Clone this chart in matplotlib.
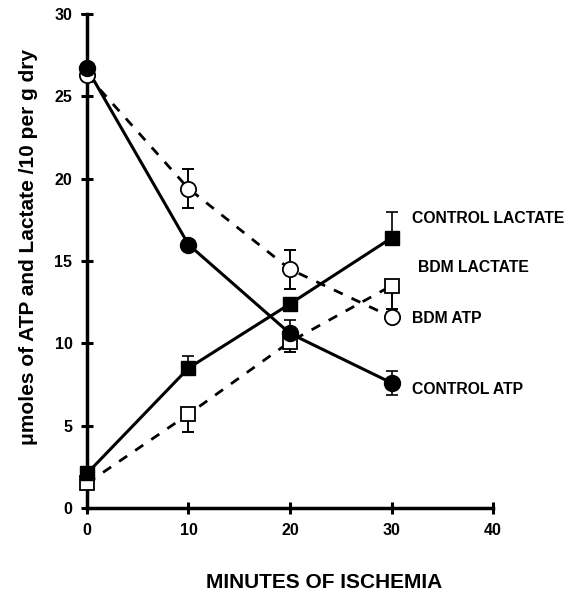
import matplotlib
matplotlib.use("Agg")
import matplotlib.pyplot as plt

minutes = [0, 10, 20, 30]

control_atp = [26.7, 16.0, 10.6, 7.6]
control_atp_err_lo = [0.0, 0.0, 0.0, 0.75]
control_atp_err_hi = [3.3, 0.0, 0.8, 0.75]

bdm_atp = [26.3, 19.4, 14.5, 11.6]
bdm_atp_err_lo = [0.0, 1.2, 1.2, 0.3]
bdm_atp_err_hi = [0.0, 1.2, 1.2, 0.3]

control_lactate = [2.1, 8.5, 12.4, 16.4]
control_lactate_err_lo = [0.0, 0.0, 0.0, 0.0]
control_lactate_err_hi = [0.0, 0.75, 0.0, 1.55]

bdm_lactate = [1.5, 5.7, 10.1, 13.5]
bdm_lactate_err_lo = [0.0, 1.1, 0.6, 1.4]
bdm_lactate_err_hi = [0.0, 0.2, 0.5, 0.0]

series_labels = ["CONTROL LACTATE", "BDM LACTATE", "BDM ATP", "CONTROL ATP"]
label_pos = [(32.0, 17.6), (32.6, 14.6), (32.0, 11.5), (32.0, 7.2)]

xticks = [0, 10, 20, 30, 40]
yticks = [0, 5, 10, 15, 20, 25, 30]

plt.rcParams['font.family'] = ['Liberation Sans', 'DejaVu Sans']

fig = plt.figure(figsize=(5.76, 5.97), dpi=100)
ax = fig.add_axes([0.151, 0.149, 0.705, 0.8275])

dash = (0, (3.5, 3.5))
# lines
ax.plot(minutes, bdm_atp, color='black', lw=2.0, linestyle=dash, zorder=2, clip_on=False)
ax.plot(minutes, bdm_lactate, color='black', lw=2.0, linestyle=dash, zorder=2, clip_on=False)
ax.plot(minutes, control_atp, color='black', lw=2.2, zorder=2, clip_on=False)
ax.plot(minutes, control_lactate, color='black', lw=2.2, zorder=2, clip_on=False)

def eb(y, lo, hi):
    ax.errorbar(minutes, y, yerr=[lo, hi], fmt='none', ecolor='black',
                elinewidth=1.2, capsize=4, capthick=1.2, zorder=3, clip_on=False)

eb(bdm_atp, bdm_atp_err_lo, bdm_atp_err_hi)
eb(bdm_lactate, bdm_lactate_err_lo, bdm_lactate_err_hi)
eb(control_atp, control_atp_err_lo, control_atp_err_hi)
eb(control_lactate, control_lactate_err_lo, control_lactate_err_hi)

# markers
ax.plot(minutes, bdm_atp, 'o', ms=11, mfc='white', mec='black', mew=1.3,
        zorder=4, clip_on=False)
ax.plot(minutes, bdm_lactate, 's', ms=10, mfc='white', mec='black', mew=1.3,
        zorder=4, clip_on=False)
ax.plot(minutes, control_atp, 'o', ms=11.5, mfc='black', mec='black',
        zorder=5, clip_on=False)
ax.plot(minutes, control_lactate, 's', ms=10.5, mfc='black', mec='black',
        zorder=5, clip_on=False)

# error bars visible through open markers
eb(bdm_atp, bdm_atp_err_lo, bdm_atp_err_hi)
eb(bdm_lactate, bdm_lactate_err_lo, bdm_lactate_err_hi)

for txt, (x, y) in zip(series_labels, label_pos):
    ax.text(x, y, txt, fontsize=11.3, fontweight='bold', ha='left', va='center')

ax.set_xlim(0, 40)
ax.set_ylim(0, 30)
ax.set_xticks(xticks)
ax.set_yticks(yticks)
ax.tick_params(direction='inout', length=9, width=2.2, labelsize=11.5, pad=6)
for lab in ax.get_xticklabels() + ax.get_yticklabels():
    lab.set_fontweight('bold')
for s in ['top', 'right']:
    ax.spines[s].set_visible(False)
for s in ['left', 'bottom']:
    ax.spines[s].set_linewidth(2.5)

fig.text(324 / 576, 1 - 583 / 597, 'MINUTES OF ISCHEMIA', fontsize=15,
         fontweight='bold', ha='center', va='center')
fig.text(29 / 576, 1 - 247 / 597, '\u03bcmoles of ATP and Lactate /10 per g dry',
         fontsize=15, fontweight='bold', ha='center', va='center', rotation=90)

fig.savefig('out.png', dpi=100)
